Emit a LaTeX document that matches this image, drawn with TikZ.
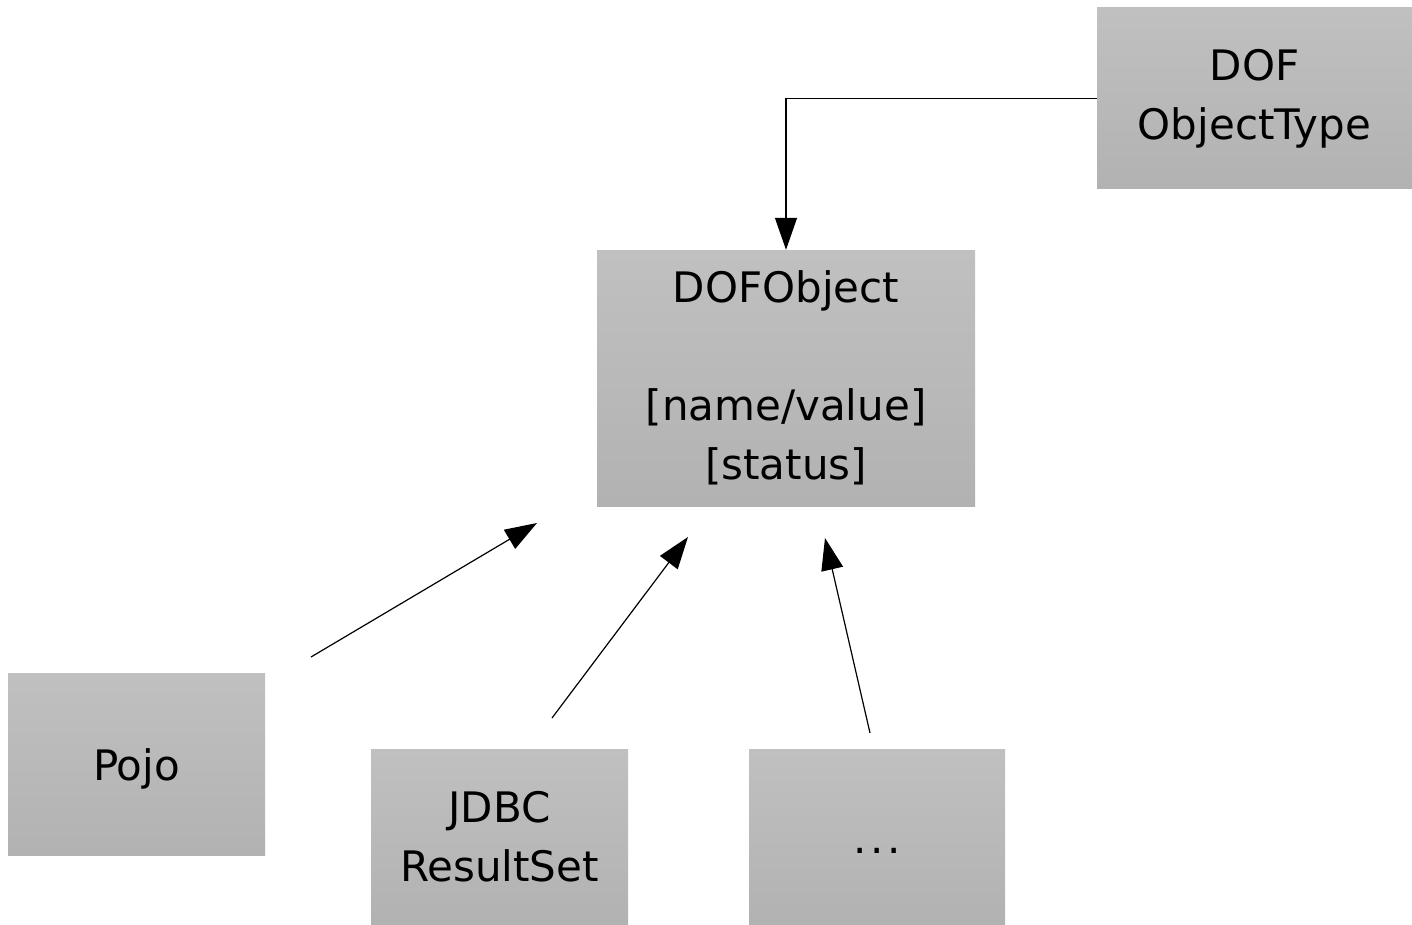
\documentclass[tikz,border=0pt]{standalone}
\usepackage{fontspec}
\setmainfont{DejaVu Sans}
\usetikzlibrary{arrows.meta}
\definecolor{boxtop}{HTML}{C0C0C0}
\definecolor{boxbot}{HTML}{B2B2B2}

\begin{document}
\begin{tikzpicture}[x=1pt, y=-1pt,
    box/.style={shading=axis, top color=boxtop, bottom color=boxbot,
                inner sep=0pt, align=center,
                font=\fontsize{42}{59}\selectfont,
                execute at begin node={\rule{0pt}{1em}}},
    arr/.style={line width=1.2pt, -{Triangle[length=32pt, width=22pt]}}]
    \useasboundingbox (0,0) rectangle (1412,925);
    % Boxes
    \node[box, minimum width=315pt, minimum height=181pt] (type) at (1254.5,98.5) {DOF\\ObjectType};
    \node[box, minimum width=378pt, minimum height=256pt] (dofobj) at (786,378) {DOFObject\\[59pt]{[name/value]}\\{[status]}};
    \node[box, minimum width=257pt, minimum height=182pt] (pojo) at (136.5,764) {Pojo};
    \node[box, minimum width=257pt, minimum height=175pt] (jdbc) at (499.5,836.5) {JDBC\\ResultSet};
    \node[box, minimum width=256pt, minimum height=175pt] (more) at (877,836.5) {\vphantom{Jj}.\hspace{3.5pt}.\hspace{3.5pt}.};
    % Type link
    \draw[arr] (type.west) -| (dofobj.north);
    % Sources pointing up to the object
    \coordinate (s1) at (311,657);  \coordinate (t1) at (537,523);
    \coordinate (s2) at (552,718);  \coordinate (t2) at (688,537);
    \coordinate (s3) at (870,733);  \coordinate (t3) at (825,538);
    \foreach \i in {1,2,3} {
        \draw[arr] (s\i) -- (t\i);
    }
\end{tikzpicture}
\end{document}
